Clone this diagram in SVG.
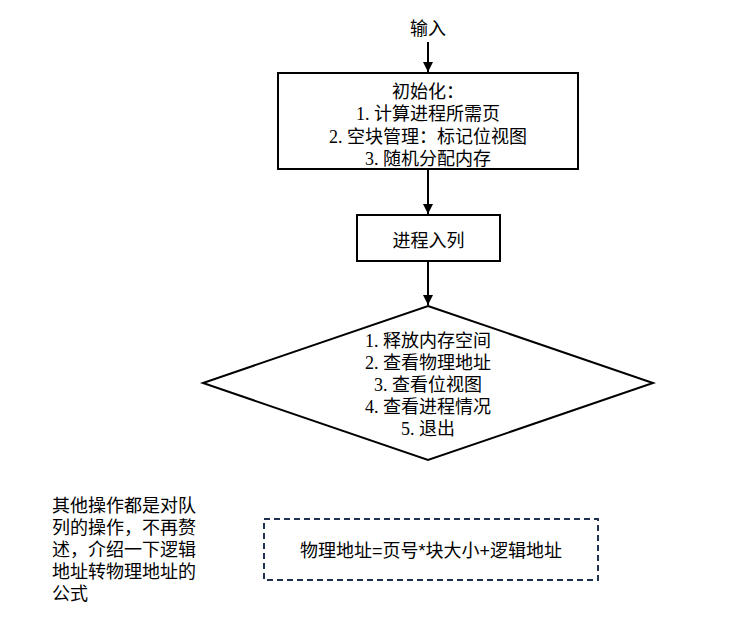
<svg xmlns="http://www.w3.org/2000/svg" width="756" height="623" viewBox="0 0 756 623">
<defs>
<marker id="arr" viewBox="0 0 10 10" refX="10" refY="5" markerWidth="5" markerHeight="5" orient="auto" markerUnits="strokeWidth">
<path d="M0,0 L10,5 L0,10 Z" fill="#000"/>
</marker>
<style>
.t{font-family:"Liberation Serif","Noto Sans CJK SC",serif;font-size:18px;fill:#000;text-anchor:middle}
.s{font-family:"Liberation Sans","Noto Sans CJK SC",sans-serif;font-size:18px;fill:#000}
.b{fill:#fff;stroke:#000;stroke-width:2}
.c{fill:none;stroke:#000;stroke-width:2;marker-end:url(#arr)}
</style>
</defs>
<rect width="756" height="623" fill="#fff"/>
<g id="connectors">
<line class="c" x1="428" y1="42" x2="428" y2="72"/>
<line class="c" x1="428" y1="169" x2="428" y2="214"/>
<line class="c" x1="428" y1="261" x2="428" y2="305"/>
</g>
<g id="input">
<text class="t" x="428" y="34.5">输入</text>
</g>
<g id="init">
<rect class="b" x="278" y="73" width="300" height="96"/>
<text class="t" x="428" y="97.5">初始化：<tspan x="428" dy="22.5">1. 计算进程所需页</tspan><tspan x="428" dy="22.5">2. 空块管理：标记位视图</tspan><tspan x="428" dy="22.5">3. 随机分配内存</tspan></text>
</g>
<g id="enqueue">
<rect class="b" x="357" y="215" width="143" height="46"/>
<text class="t" x="428.5" y="246.5">进程入列</text>
</g>
<g id="menu">
<polygon class="b" points="428,306 653,383 428,460 203,383"/>
<text class="t" x="428" y="346.5">1. 释放内存空间<tspan x="428" dy="22.2">2. 查看物理地址</tspan><tspan x="428" dy="22.2">3. 查看位视图</tspan><tspan x="428" dy="22.2">4. 查看进程情况</tspan><tspan x="428" dy="22.2">5. 退出</tspan></text>
</g>
<g id="note">
<text class="s" x="52" y="511.5">其他操作都是对队<tspan x="52" dy="22">列的操作，不再赘</tspan><tspan x="52" dy="22">述，介绍一下逻辑</tspan><tspan x="52" dy="22">地址转物理地址的</tspan><tspan x="52" dy="22.5">公式</tspan></text>
</g>
<g id="formula">
<rect x="264" y="519" width="334" height="61" fill="none" stroke="#1f3050" stroke-width="2" stroke-dasharray="6,4"/>
<text class="s" x="431" y="556.5" text-anchor="middle">物理地址=页号*块大小+逻辑地址</text>
</g>
</svg>
